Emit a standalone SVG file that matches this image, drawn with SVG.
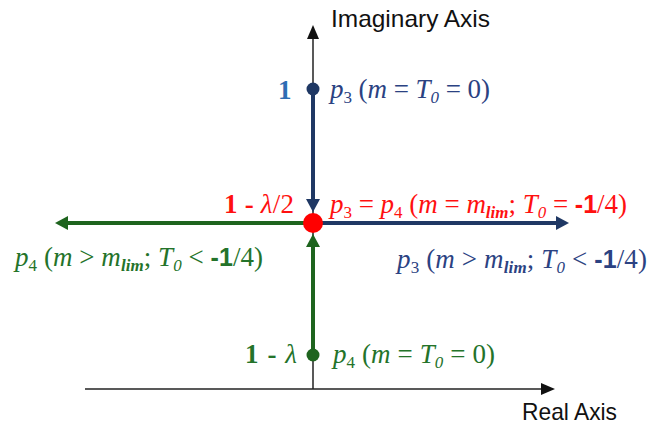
<svg xmlns="http://www.w3.org/2000/svg" width="656" height="425" viewBox="0 0 656 425">
<style>
.ax{stroke:#222;stroke-width:1.5;fill:none}
.thick{stroke-width:4;fill:none}
.blue{stroke:#1F3864}
.green{stroke:#1E641E}
.lbl{font-family:"Liberation Sans",Arial,sans-serif;font-size:24px;fill:#111}
.m{font-family:"Liberation Serif","Times New Roman",serif;font-size:27px}
.i{font-style:italic}
.s{font-size:17px}
.sans{font-family:"Liberation Sans",Arial,sans-serif;font-size:25px}
.tb{fill:#2B4282}
.tg{fill:#24732A}
.tr{fill:#FF1010}
</style>
<defs>
<marker id="ak" markerUnits="userSpaceOnUse" markerWidth="14" markerHeight="12" refX="0" refY="6" orient="auto"><path d="M0,0 L14,6 L0,12 z" fill="#111"/></marker>
<marker id="ab" markerUnits="userSpaceOnUse" markerWidth="14" markerHeight="14" refX="0" refY="7" orient="auto"><path d="M0,0 L13,7 L0,14 z" fill="#1F3864"/></marker>
<marker id="ag" markerUnits="userSpaceOnUse" markerWidth="14" markerHeight="14" refX="0" refY="7" orient="auto"><path d="M0,0 L13,7 L0,14 z" fill="#1E641E"/></marker>
</defs>
<g id="connectors">
<line class="ax" x1="85" y1="389" x2="541" y2="389" marker-end="url(#ak)"/>
<line class="ax" x1="313" y1="389" x2="313" y2="39" marker-end="url(#ak)"/>
<line class="thick blue" x1="313" y1="89" x2="313" y2="199" marker-end="url(#ab)"/>
<line class="thick blue" x1="313" y1="223" x2="556" y2="223" marker-end="url(#ab)"/>
<line class="thick green" x1="313" y1="223" x2="68" y2="223" marker-end="url(#ag)"/>
<line class="thick green" x1="313" y1="355" x2="313" y2="247" marker-end="url(#ag)"/>
</g>
<g id="imag-axis-label"><text class="lbl" x="331" y="27" textLength="159" lengthAdjust="spacingAndGlyphs">Imaginary Axis</text></g>
<g id="real-axis-label"><text class="lbl" x="522" y="420" textLength="95" lengthAdjust="spacingAndGlyphs">Real Axis</text></g>
<g id="p3-start">
<circle cx="313" cy="89" r="6.5" fill="#1F3864"/>
<text class="m" x="278" y="99" font-weight="bold" fill="#2E6DB4">1</text>
<text class="m tb" x="330" y="98" textLength="160" lengthAdjust="spacing"><tspan class="i">p</tspan><tspan class="s" dy="5">3</tspan><tspan dy="-5"> (</tspan><tspan class="i">m</tspan> = <tspan class="i">T</tspan><tspan class="s i" dy="5">0</tspan><tspan dy="-5"> = 0)</tspan></text>
</g>
<g id="merge-point">
<circle cx="313" cy="223" r="10" fill="#FF0000"/>
<text class="m tr" x="224" y="213" textLength="70" lengthAdjust="spacing"><tspan font-weight="bold">1 - </tspan><tspan class="i">λ</tspan>/2</text>
<text class="m tr" x="330" y="213" textLength="297" lengthAdjust="spacing"><tspan class="i">p</tspan><tspan class="s" dy="5">3</tspan><tspan dy="-5"> = </tspan><tspan class="i">p</tspan><tspan class="s" dy="5">4</tspan><tspan dy="-5"> (</tspan><tspan class="i">m</tspan> = <tspan class="i">m</tspan><tspan class="s i" font-weight="bold" dy="5">lim</tspan><tspan dy="-5">; </tspan><tspan class="i">T</tspan><tspan class="s i" dy="5">0</tspan><tspan dy="-5"> = </tspan><tspan class="sans" font-weight="bold">-1</tspan>/4)</text>
</g>
<g id="p4-branch">
<text class="m tg" x="15" y="266" textLength="248" lengthAdjust="spacing"><tspan class="i">p</tspan><tspan class="s" dy="5">4</tspan><tspan dy="-5"> (</tspan><tspan class="i">m</tspan> &gt; <tspan class="i">m</tspan><tspan class="s i" font-weight="bold" dy="5">lim</tspan><tspan dy="-5">; </tspan><tspan class="i">T</tspan><tspan class="s i" dy="5">0</tspan><tspan dy="-5"> &lt; </tspan><tspan class="sans" font-weight="bold">-1</tspan>/4)</text>
</g>
<g id="p3-branch">
<text class="m tb" x="397" y="268" textLength="250" lengthAdjust="spacing"><tspan class="i">p</tspan><tspan class="s" dy="5">3</tspan><tspan dy="-5"> (</tspan><tspan class="i">m</tspan> &gt; <tspan class="i">m</tspan><tspan class="s i" font-weight="bold" dy="5">lim</tspan><tspan dy="-5">; </tspan><tspan class="i">T</tspan><tspan class="s i" dy="5">0</tspan><tspan dy="-5"> &lt; </tspan><tspan class="sans" font-weight="bold">-1</tspan>/4)</text>
</g>
<g id="p4-start">
<circle cx="313" cy="355" r="6.5" fill="#1E641E"/>
<text class="m tg" x="245" y="363" textLength="52" lengthAdjust="spacing"><tspan font-weight="bold">1 - </tspan><tspan class="i">λ</tspan></text>
<text class="m tg" x="333" y="363" textLength="162" lengthAdjust="spacing"><tspan class="i">p</tspan><tspan class="s" dy="5">4</tspan><tspan dy="-5"> (</tspan><tspan class="i">m</tspan> = <tspan class="i">T</tspan><tspan class="s i" dy="5">0</tspan><tspan dy="-5"> = 0)</tspan></text>
</g>
</svg>
